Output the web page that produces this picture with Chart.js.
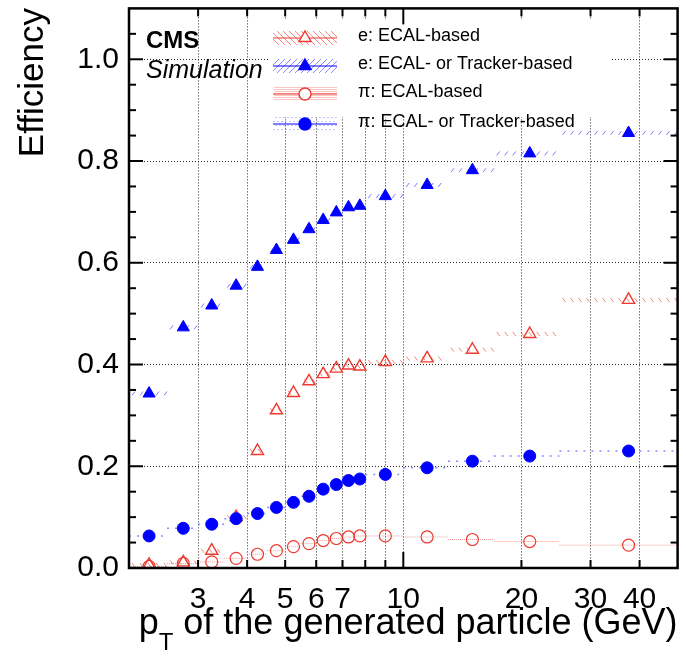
<!DOCTYPE html>
<html>
<head>
<meta charset="utf-8">
<script src="https://cdn.jsdelivr.net/npm/chart.js@4.4.0/dist/chart.umd.min.js"></script>
<style>
  body { margin: 0; background: #fff; }
  #wrap { width: 686px; height: 661px; }
</style>
</head>
<body>
<div id="wrap"><canvas id="effChart" width="686" height="661"></canvas></div>
<script>
// pT bins (GeV): centres and edges
const ptCenters = [2.25, 2.75, 3.25, 3.75, 4.25, 4.75, 5.25, 5.75, 6.25, 6.75, 7.25, 7.75, 9, 11.5, 15, 21, 37.5];
const ptLow  = [2, 2.5, 3, 3.5, 4, 4.5, 5, 5.5, 6, 6.5, 7, 7.5, 8, 10, 13, 17, 25];
const ptHigh = [2.5, 3, 3.5, 4, 4.5, 5, 5.5, 6, 6.5, 7, 7.5, 8, 10, 13, 17, 25, 50];

// efficiencies
const effEleEcal = [0.006, 0.011, 0.034, 0.100, 0.230, 0.310, 0.344, 0.367, 0.381, 0.392, 0.398, 0.396, 0.405, 0.412, 0.429, 0.460, 0.527];
const effEleAny  = [0.343, 0.473, 0.516, 0.555, 0.592, 0.625, 0.645, 0.666, 0.684, 0.699, 0.709, 0.712, 0.731, 0.753, 0.782, 0.815, 0.855];
const effPiEcal  = [0.003, 0.009, 0.012, 0.019, 0.027, 0.034, 0.042, 0.048, 0.054, 0.058, 0.061, 0.063, 0.063, 0.061, 0.056, 0.052, 0.045];
const effPiAny   = [0.063, 0.078, 0.086, 0.097, 0.107, 0.119, 0.129, 0.141, 0.155, 0.164, 0.172, 0.175, 0.184, 0.197, 0.210, 0.220, 0.230];

const xTickVals = [3, 4, 5, 6, 7, 8, 9, 10, 20, 30, 40];
const xLabelVals = [3, 4, 5, 6, 7, 10, 20, 30, 40];
const yLabelVals = [0, 0.2, 0.4, 0.6, 0.8, 1.0];
const seriesNames = ['e: ECAL-based', 'e: ECAL- or Tracker-based', '\u03c0: ECAL-based', '\u03c0: ECAL- or Tracker-based'];

const RED = 'rgb(238,58,48)';
const BLUE = 'rgb(0,0,255)';
const FONT = 'Liberation Sans, Arial, Helvetica, sans-serif';

function pts(vals) {
  return ptCenters.map((x, i) => ({ x: x, y: vals[i] }));
}

function line(ctx, x0, y0, x1, y1) {
  ctx.beginPath();
  ctx.moveTo(x0, y0);
  ctx.lineTo(x1, y1);
  ctx.stroke();
}

// hatched bands showing the bin widths
const bands = [
  { vals: effEleEcal, color: 'rgba(240,90,80,0.75)', kind: 'back' },
  { vals: effEleAny, color: 'rgba(90,90,255,0.8)', kind: 'fwd' },
  { vals: effPiEcal, color: 'rgba(240,90,80,0.6)', kind: 'fine' },
  { vals: effPiAny, color: 'rgba(110,110,255,0.8)', kind: 'dots' }
];

function drawBand(ctx, xs, ys, b) {
  ctx.strokeStyle = b.color;
  ctx.lineWidth = 1;
  ptLow.forEach((lo, i) => {
    const x0 = xs.getPixelForValue(lo);
    const x1 = xs.getPixelForValue(ptHigh[i]);
    const py = ys.getPixelForValue(b.vals[i]);
    if (b.kind === 'fwd' || b.kind === 'back') {
      for (let px = x0 + 3; px < x1 - 2; px += 8) {
        if (b.kind === 'fwd') line(ctx, px, py + 2, px + 3, py - 2);
        else line(ctx, px, py - 2, px + 3, py + 2);
      }
    } else if (b.kind === 'fine') {
      ctx.setLineDash([1, 1]);
      line(ctx, x0, py, x1, py);
      ctx.setLineDash([]);
    } else {
      ctx.setLineDash([2, 6]);
      ctx.lineWidth = 1.5;
      line(ctx, x0, py, x1, py);
      ctx.setLineDash([]);
      ctx.lineWidth = 1;
    }
  });
}

const legendRows = [
  { y: 38, color: RED, style: 'triangle', radius: 7, filled: false, kind: 'back' },
  { y: 66, color: BLUE, style: 'triangle', radius: 7, filled: true, kind: 'fwd' },
  { y: 94, color: RED, style: 'circle', radius: 6, filled: false, kind: 'fine' },
  { y: 124, color: BLUE, style: 'circle', radius: 6, filled: true, kind: 'dots' }
];

const bandPlugin = {
  id: 'bands',
  beforeDatasetsDraw(chart) {
    const { ctx, chartArea: a, scales: { x, y } } = chart;
    ctx.save();
    // legend background hides the grid behind it
    ctx.fillStyle = '#fff';
    ctx.fillRect(270, 20, 340, 97);
    ctx.beginPath();
    ctx.rect(a.left, a.top, a.width, a.height);
    ctx.clip();
    bands.forEach(b => drawBand(ctx, x, y, b));
    ctx.restore();
  },
  afterDatasetsDraw(chart) {
    const ctx = chart.ctx;
    ctx.save();
    const bx0 = 273, bx1 = 337, cx = 305;
    legendRows.forEach((r, i) => {
      const pale = i % 2 ? 'rgba(90,90,255,0.7)' : 'rgba(240,90,80,0.7)';
      ctx.save();
      ctx.beginPath();
      ctx.rect(bx0, r.y - 7, bx1 - bx0, 14);
      ctx.clip();
      ctx.strokeStyle = pale;
      ctx.fillStyle = pale;
      ctx.lineWidth = 1;
      if (r.kind === 'fwd' || r.kind === 'back') {
        for (let px = bx0 - 14; px < bx1 + 2; px += 6) {
          if (r.kind === 'fwd') line(ctx, px, r.y + 7, px + 14, r.y - 7);
          else line(ctx, px, r.y - 7, px + 14, r.y + 7);
        }
      } else {
        const step = r.kind === 'fine' ? 2 : 4;
        for (let yy = r.y - 7; yy < r.y + 7; yy += step) {
          for (let xx = bx0 + ((yy / step) % 2) * step / 2; xx < bx1; xx += step) {
            ctx.fillRect(xx, yy, 1, 1);
          }
        }
      }
      ctx.restore();
      ctx.strokeStyle = r.color;
      ctx.lineWidth = 1.2;
      line(ctx, bx0, r.y, bx1, r.y);
      ctx.fillStyle = r.filled ? r.color : '#fff';
      ctx.lineWidth = 1.4;
      Chart.helpers.drawPoint(ctx, { pointStyle: r.style, radius: r.radius, borderWidth: 1.4, rotation: 0 }, cx, r.y);
      ctx.fillStyle = '#000';
      ctx.font = '18px ' + FONT;
      ctx.textAlign = 'left';
      ctx.textBaseline = 'middle';
      ctx.fillText(seriesNames[i], 358, r.y - 2);
    });
    ctx.restore();
  }
};

const framePlugin = {
  id: 'frame',
  afterDraw(chart) {
    const { ctx, chartArea: a, scales: { x, y } } = chart;
    ctx.save();
    ctx.strokeStyle = '#000';
    ctx.lineWidth = 2;
    xTickVals.forEach(v => {
      const px = x.getPixelForValue(v);
      const len = v === 10 ? 16 : 8;
      line(ctx, px, a.bottom, px, a.bottom - len);
      line(ctx, px, a.top, px, a.top + len);
    });
    for (let k = 0; k <= 21; k++) {
      const py = y.getPixelForValue(k * 0.05);
      const len = k % 4 === 0 ? 14 : 7;
      line(ctx, a.left, py, a.left + len, py);
      line(ctx, a.right, py, a.right - len, py);
    }
    ctx.lineWidth = 2.5;
    ctx.strokeRect(a.left, a.top, a.width, a.height);

    // CMS label
    ctx.fillStyle = '#000';
    ctx.textAlign = 'left';
    ctx.textBaseline = 'alphabetic';
    ctx.font = 'bold 24px ' + FONT;
    ctx.fillText('CMS', 146, 48);
    ctx.font = 'italic 25px ' + FONT;
    ctx.fillText('Simulation', 146, 78);

    // axis titles
    ctx.font = '35px ' + FONT;
    ctx.save();
    ctx.translate(43, 8);
    ctx.rotate(-Math.PI / 2);
    ctx.textAlign = 'right';
    ctx.fillText('Efficiency', 0, 0);
    ctx.restore();

    const main = ' of the generated particle (GeV)';
    ctx.font = '36px ' + FONT;
    const wMain = ctx.measureText(main).width;
    const wP = ctx.measureText('p').width;
    ctx.font = '24px ' + FONT;
    const wT = ctx.measureText('T').width;
    let tx = a.right - wMain - wT - wP;
    ctx.font = '36px ' + FONT;
    ctx.fillText('p', tx, 634);
    ctx.font = '24px ' + FONT;
    ctx.fillText('T', tx + wP, 650);
    ctx.font = '36px ' + FONT;
    ctx.fillText(main, tx + wP + wT, 634);
    ctx.restore();
  }
};

const ctx = document.getElementById('effChart').getContext('2d');
const effChart = new Chart(ctx, {
  type: 'scatter',
  data: {
    datasets: [
      { label: seriesNames[3], data: pts(effPiAny), pointStyle: 'circle', pointRadius: 6,
        backgroundColor: BLUE, borderColor: BLUE, borderWidth: 1 },
      { label: seriesNames[1], data: pts(effEleAny), pointStyle: 'triangle', pointRadius: 7,
        backgroundColor: BLUE, borderColor: BLUE, borderWidth: 1 },
      { label: seriesNames[0], data: pts(effEleEcal), pointStyle: 'triangle', pointRadius: 7,
        backgroundColor: 'rgba(0,0,0,0)', borderColor: RED, borderWidth: 1.4 },
      { label: seriesNames[2], data: pts(effPiEcal), pointStyle: 'circle', pointRadius: 6,
        backgroundColor: 'rgba(0,0,0,0)', borderColor: RED, borderWidth: 1.2 }
    ]
  },
  options: {
    responsive: false,
    animation: false,
    layout: { padding: { left: 0, top: 8, right: 3, bottom: 0 } },
    plugins: { legend: { display: false }, tooltip: { enabled: false } },
    scales: {
      x: {
        type: 'logarithmic',
        min: 2,
        max: 50,
        afterBuildTicks: s => { s.ticks = xTickVals.map(v => ({ value: v })); },
        afterFit: s => { s.height = 93; s.paddingLeft = 0; s.paddingRight = 0; },
        border: { display: false, dash: [1, 2] },
        grid: { color: 'rgba(0,0,0,0.85)', lineWidth: 1, drawTicks: false },
        ticks: {
          autoSkip: false, maxRotation: 0, minRotation: 0, padding: 14, color: '#000',
          font: { family: FONT, size: 30 },
          callback: v => xLabelVals.includes(v) ? String(v) : ''
        }
      },
      y: {
        min: 0,
        max: 1.1,
        afterBuildTicks: s => { s.ticks = yLabelVals.map(v => ({ value: v })); },
        afterFit: s => { s.width = 129; s.paddingTop = 0; s.paddingBottom = 0; },
        border: { display: false, dash: [1, 2] },
        grid: { color: 'rgba(0,0,0,0.85)', lineWidth: 1, drawTicks: false },
        ticks: {
          padding: 10, color: '#000',
          font: { family: FONT, size: 30 },
          callback: v => v.toFixed(1)
        }
      }
    }
  },
  plugins: [bandPlugin, framePlugin]
});
</script>
</body>
</html>
